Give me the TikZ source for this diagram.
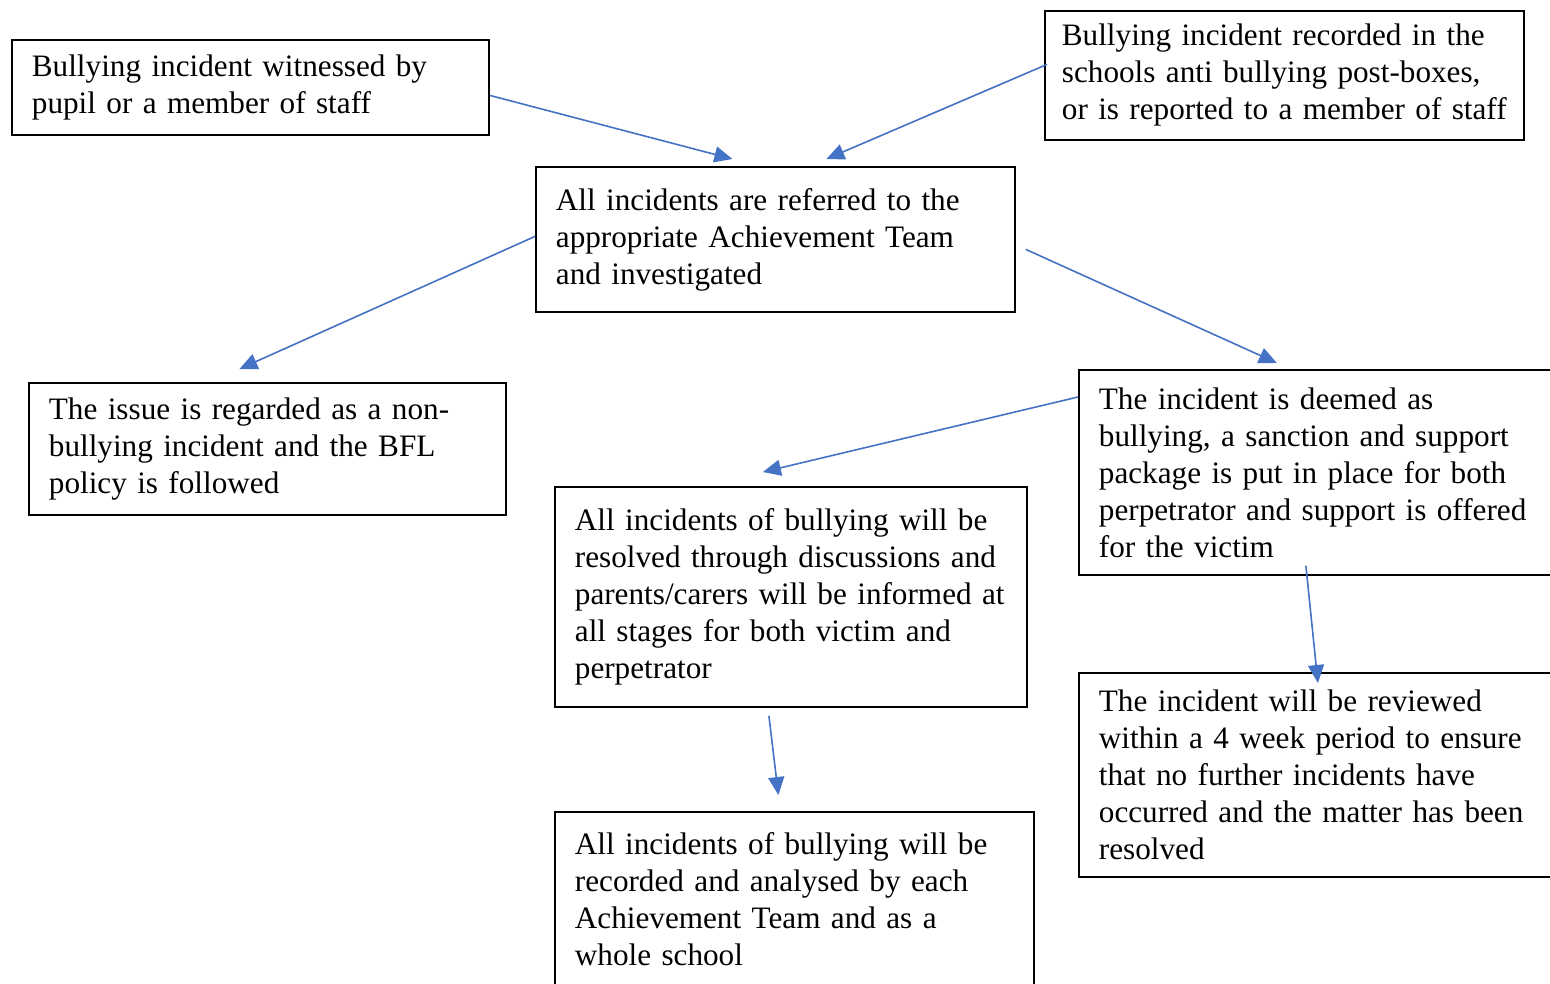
\documentclass[tikz,border=0pt]{standalone}
\usepackage{fontspec}
\setmainfont{Liberation Serif}
\usetikzlibrary{arrows.meta}

\definecolor{arrowblue}{RGB}{68,114,196}

\begin{document}
\begin{tikzpicture}[x=1pt,y=-1pt,
  box/.style={draw,line width=1.8pt,anchor=north west,align=left,
    inner xsep=20pt,inner ysep=0pt,font=\fontsize{31.2}{37}\selectfont},
  flow/.style={draw=arrowblue,line width=1.6pt,-{Triangle[length=18pt,width=16pt]}}]

  \useasboundingbox (0,0) rectangle (1550,983);

  % Top row
  \node[box,text width=437pt,minimum height=95pt] (witness) at (11,39)
    {Bullying incident witnessed by\\pupil or a member of staff};
  \node[box,inner xsep=17pt,text width=445pt,minimum height=129pt] (recorded) at (1044,10)
    {Bullying incident recorded in the\\schools anti bullying post-boxes,\\or is reported to a member of staff};

  % Middle
  \node[box,text width=439pt,minimum height=145pt] (referred) at (535,166)
    {All incidents are referred to the\\appropriate Achievement Team\\and investigated};

  % Outcomes
  \node[box,text width=437pt,minimum height=132pt] (nonbully) at (28,382)
    {The issue is regarded as a non-\\bullying incident and the BFL\\policy is followed};
  \node[box,text width=442pt,minimum height=205pt] (deemed) at (1078,369)
    {The incident is deemed as\\bullying, a sanction and support\\package is put in place for both\\perpetrator and support is offered\\for the victim};
  \node[box,text width=432pt,minimum height=220pt] (discuss) at (554,486)
    {All incidents of bullying will be\\resolved through discussions and\\parents/carers will be informed at\\all stages for both victim and\\perpetrator};
  \node[box,text width=442pt,minimum height=204pt] (review) at (1078,672)
    {The incident will be reviewed\\within a 4 week period to ensure\\that no further incidents have\\occurred and the matter has been\\resolved};
  \node[box,text width=439pt,minimum height=175pt] (analysed) at (554,811)
    {All incidents of bullying will be\\recorded and analysed by each\\Achievement Team and as a\\whole school};

  % Arrows
  \draw[flow] ([yshift=-8pt]witness.east) -- ([xshift=-43pt,yshift=7pt]referred.north);
  \draw[flow] ([xshift=3pt,yshift=11pt]recorded.west) -- ([xshift=51pt,yshift=7pt]referred.north);
  \draw[flow] ([yshift=3pt]referred.west) -- ([xshift=-28pt,yshift=13pt]nonbully.north);
  \draw[flow] ([xshift=10pt,yshift=-10pt]referred.east) -- ([xshift=-43pt,yshift=6pt]deemed.north);
  \draw[flow] ([yshift=-28pt]deemed.north west) -- ([xshift=-28pt,yshift=14pt]discuss.north);
  \draw[flow] ([xshift=-14pt,yshift=10pt]deemed.south) -- ([xshift=-2pt,yshift=-11pt]review.north);
  \draw[flow] ([xshift=-22pt,yshift=-8pt]discuss.south) -- ([xshift=-16pt,yshift=16pt]analysed.north);
\end{tikzpicture}
\end{document}
